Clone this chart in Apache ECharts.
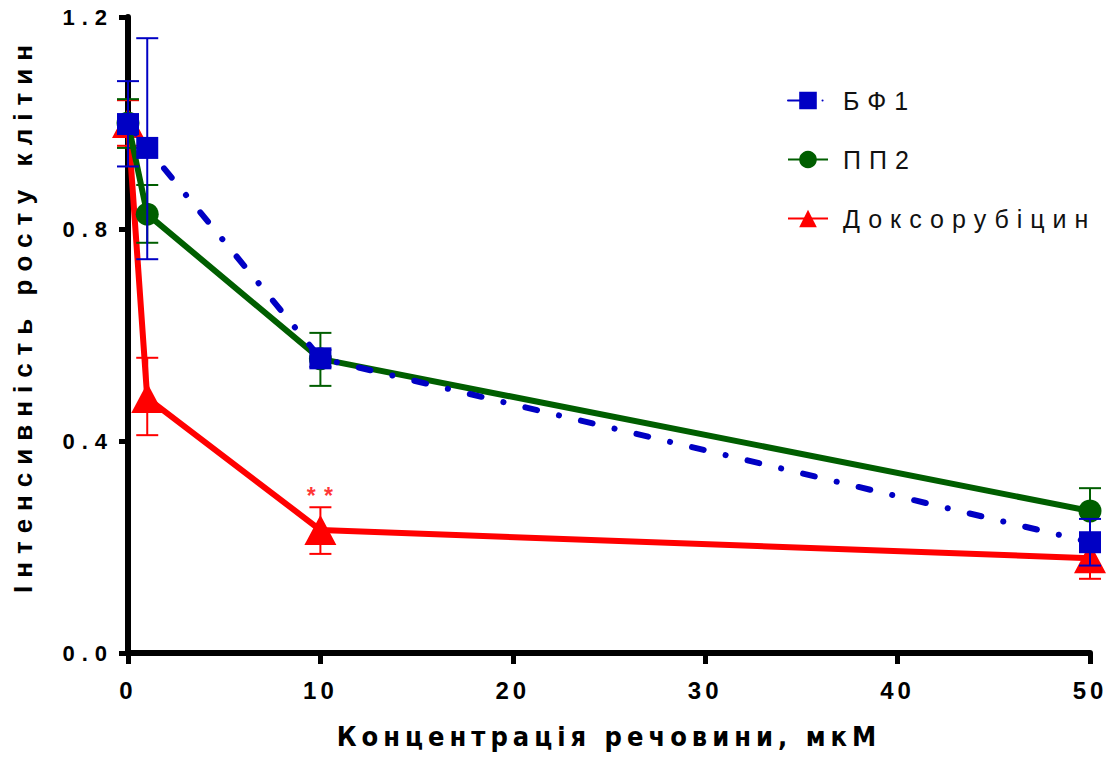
<!DOCTYPE html>
<html><head><meta charset="utf-8">
<script src="https://cdn.jsdelivr.net/npm/echarts@6/dist/echarts.min.js"></script>
<style>
html,body{margin:0;padding:0;background:#fff}
#c{width:1110px;height:758px}
#c text[style*="25px"]{letter-spacing:8px}
#c text[style*="22px"]{letter-spacing:7px}
#c text[style*="24px"]{letter-spacing:4px}
#c text[style*="26px"]{letter-spacing:8px}
#c text[style*="27px"]{letter-spacing:5px}
#c text[style*="23px"]{letter-spacing:1px}
</style></head><body><div id="c"></div>
<script>
const concentrations = [0, 1, 10, 50];
const seriesNames = ['БФ1', 'ПП2', 'Доксорубіцин'];
const bf1Mean = [0.998, 0.953, 0.556, 0.209];
const bf1Low  = [0.918, 0.743, 0.540, 0.165];
const bf1High = [1.079, 1.160, 0.572, 0.253];
const pp2Mean = [1.000, 0.828, 0.555, 0.268];
const pp2Low  = [0.953, 0.774, 0.504, 0.225];
const pp2High = [1.045, 0.883, 0.604, 0.311];
const doxMean = [1.000, 0.481, 0.232, 0.179];
const doxLow  = [0.957, 0.411, 0.187, 0.140];
const doxHigh = [1.043, 0.557, 0.275, 0.218];
const xTickLabels = ['0', '10', '20', '30', '40', '50'];
const yTickLabels = ['0.0', '0.4', '0.8', '1.2'];
const annotation = [[10, 0.297, '* *']];

const BLUE = '#0000c4', GREEN = '#005e00', RED = '#ff0000';

function pts(mean) { return concentrations.map((x, i) => [x, mean[i]]); }

function errorSeries(name, low, high, color, z) {
  return {
    type: 'custom', name: name + ' err', z: z, silent: true,
    data: concentrations.map((x, i) => [x, low[i], high[i]]),
    encode: { x: 0, y: [1, 2] },
    renderItem: function (params, api) {
      const x = api.value(0);
      const lo = api.coord([x, api.value(1)]);
      const hi = api.coord([x, api.value(2)]);
      const hw = 11;
      const st = { stroke: color, lineWidth: 2 };
      return { type: 'group', children: [
        { type: 'line', shape: { x1: lo[0], y1: lo[1], x2: hi[0], y2: hi[1] }, style: st },
        { type: 'line', shape: { x1: lo[0] - hw, y1: lo[1], x2: lo[0] + hw, y2: lo[1] }, style: st },
        { type: 'line', shape: { x1: hi[0] - hw, y1: hi[1], x2: hi[0] + hw, y2: hi[1] }, style: st }
      ]};
    }
  };
}

const chart = echarts.init(document.getElementById('c'), null, { renderer: 'svg' });
chart.setOption({
  animation: false,
  backgroundColor: '#fff',
  grid: { left: 128, right: 20, top: 17, bottom: 105, containLabel: false, outerBoundsMode: 'none' },
  legend: {
    data: seriesNames,
    orient: 'vertical', left: 782, top: 83,
    itemWidth: 40, itemHeight: 22, itemGap: 34,
    textStyle: { fontFamily: 'Liberation Sans, Arial', fontSize: 25, color: '#111', padding: [0, 0, 0, 10] }
  },
  xAxis: {
    type: 'value', min: 0, max: 50, interval: 10,
    name: 'Концентрація речовини, мкМ', nameLocation: 'middle', nameGap: 70,
    nameTextStyle: { fontFamily: 'DejaVu Sans Condensed, Liberation Sans', fontWeight: 'bold', fontSize: 27, color: '#000' },
    axisLine: { lineStyle: { color: '#000', width: 6 } },
    axisTick: { length: 11, lineStyle: { color: '#000', width: 5 } },
    splitLine: { show: false },
    axisLabel: { margin: 25, fontFamily: 'Liberation Sans, Arial', fontWeight: 'bold', fontSize: 24, color: '#000',
      formatter: function (v) { return xTickLabels[Math.round(v / 10)]; } }
  },
  yAxis: {
    type: 'value', min: 0, max: 1.2, interval: 0.4,
    name: 'Інтенсивність росту клітин', nameLocation: 'middle', nameGap: 92, nameRotate: 90,
    nameTextStyle: { fontFamily: 'Liberation Sans, Arial', fontWeight: 'bold', fontSize: 26, color: '#000', padding: [0, 0, 0, 40] },
    axisLine: { lineStyle: { color: '#000', width: 6 } },
    axisTick: { length: 9, lineStyle: { color: '#000', width: 5 } },
    splitLine: { show: false },
    axisLabel: { margin: 14, fontFamily: 'Liberation Sans, Arial', fontWeight: 'bold', fontSize: 22, color: '#000',
      formatter: function (v) { return yTickLabels[Math.round(v / 0.4)]; } }
  },
  series: [
    errorSeries('Доксорубіцин', doxLow, doxHigh, RED, 1),
    {
      type: 'line', name: 'Доксорубіцин', z: 2, data: pts(doxMean),
      symbol: 'triangle', symbolSize: [32, 30],
      itemStyle: { color: RED }, lineStyle: { color: RED, width: 6 }
    },
    errorSeries('ПП2', pp2Low, pp2High, GREEN, 3),
    {
      type: 'line', name: 'ПП2', z: 4, data: pts(pp2Mean),
      symbol: 'circle', symbolSize: 23,
      itemStyle: { color: GREEN }, lineStyle: { color: GREEN, width: 6 }
    },
    errorSeries('БФ1', bf1Low, bf1High, BLUE, 5),
    {
      type: 'line', name: 'БФ1', z: 6, data: pts(bf1Mean),
      symbol: 'rect', symbolSize: 22,
      itemStyle: { color: BLUE },
      lineStyle: { color: BLUE, width: 6, type: [12, 22.5, 0.1, 22.5], cap: 'round' }
    },
    {
      type: 'scatter', name: 'annotation', z: 7, silent: true,
      data: annotation.map(a => [a[0], a[1]]),
      symbolSize: 1, itemStyle: { color: 'rgba(0,0,0,0)' },
      label: { show: true, position: 'inside', formatter: function (p) { return annotation[p.dataIndex][2]; },
        color: RED, fontSize: 23, fontWeight: 'bold', fontFamily: 'Liberation Sans, Arial' }
    }
  ]
});
</script></body></html>
